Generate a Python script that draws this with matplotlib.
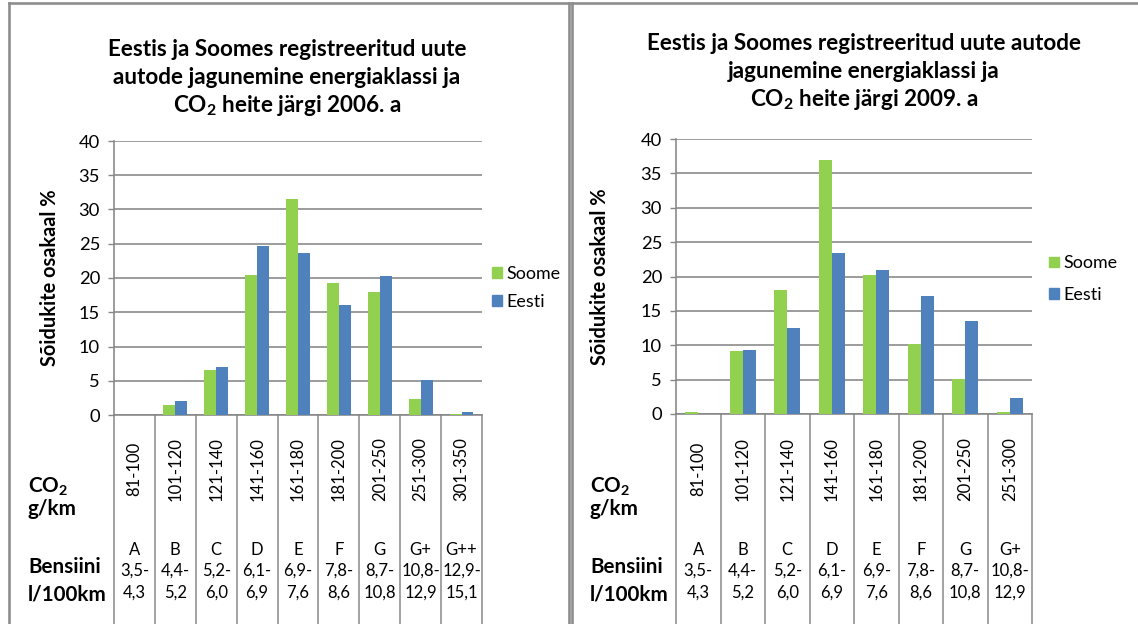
import numpy as np
import matplotlib
matplotlib.use('Agg')
import matplotlib.pyplot as plt
from matplotlib.lines import Line2D
from matplotlib.patches import Patch
from matplotlib.textpath import TextPath
from matplotlib.font_manager import FontProperties
from matplotlib import transforms

FONT = 'Lato'
plt.rcParams['font.family'] = [FONT, 'DejaVu Sans']
plt.rcParams['mathtext.fontset'] = 'custom'
plt.rcParams['mathtext.rm'] = FONT
plt.rcParams['mathtext.bf'] = FONT + ':bold'

# ---------------- data ----------------
co2_2006 = ['81-100', '101-120', '121-140', '141-160', '161-180',
            '181-200', '201-250', '251-300', '301-350']
cls_2006 = ['A', 'B', 'C', 'D', 'E', 'F', 'G', 'G+', 'G++']
fuel_lo_2006 = ['3,5-', '4,4-', '5,2-', '6,1-', '6,9-', '7,8-', '8,7-', '10,8-', '12,9-']
fuel_hi_2006 = ['4,3', '5,2', '6,0', '6,9', '7,6', '8,6', '10,8', '12,9', '15,1']
soome_2006 = [0.0, 1.4, 6.6, 20.5, 31.5, 19.3, 18.0, 2.3, 0.15]
eesti_2006 = [0.0, 2.05, 7.0, 24.7, 23.6, 16.1, 20.3, 5.1, 0.45]

co2_2009 = ['81-100', '101-120', '121-140', '141-160', '161-180',
            '181-200', '201-250', '251-300']
cls_2009 = ['A', 'B', 'C', 'D', 'E', 'F', 'G', 'G+']
fuel_lo_2009 = ['3,5-', '4,4-', '5,2-', '6,1-', '6,9-', '7,8-', '8,7-', '10,8-']
fuel_hi_2009 = ['4,3', '5,2', '6,0', '6,9', '7,6', '8,6', '10,8', '12,9']
soome_2009 = [0.3, 9.1, 18.1, 36.9, 20.2, 10.2, 5.1, 0.3]
eesti_2009 = [0.05, 9.3, 12.5, 23.4, 21.0, 17.1, 13.5, 2.3]

series_names = ['Soome', 'Eesti']
yticks = [0, 5, 10, 15, 20, 25, 30, 35, 40]
title_2006 = ['Eestis ja Soomes registreeritud uute',
              'autode jagunemine energiaklassi ja',
              r'CO$_\mathbf{2}$ heite järgi 2006. a']
title_2009 = ['Eestis ja Soomes registreeritud uute autode',
              'jagunemine energiaklassi ja',
              r'CO$_\mathbf{2}$ heite järgi 2009. a']
ylabel = 'Sõidukite osakaal %'

# ---------------- style ----------------
W, H, DPI = 1138, 624, 100
GREEN = '#92D050'
BLUE = '#4F81BD'
GRID = '#878787'
BORDER = '#8C8C8C'


def fx(x):
    return x / W


def fy(y):
    return 1 - y / H


def fit(text, target_px, weight='normal'):
    tp = TextPath((0, 0), text, size=100, prop=FontProperties(family=FONT, weight=weight))
    w = tp.get_extents().width
    return 100 * target_px * 72 / (w * DPI)


FS_TITLE = fit('Eestis ja Soomes registreeritud uute', 357, 'bold')
FS_TICK = fit('40', 20.5)
FS_ROT = fit('101-120', 62)
FS_TAB = FS_ROT
FS_BOLD = fit('Bensiini', 70, 'bold')
FS_LEG = fit('Soome', 53)
FS_YLAB = fit(ylabel, 175, 'bold')

fig = plt.figure(figsize=(W / DPI, H / DPI), dpi=DPI)


def px2pt(p):
    return p * 72 / DPI


def panel(x0, x1, ytop, ybot, cats, cls, lo, hi, s, e,
          title, tx, ty, ylab_x, lab_x, leg_x, leg_y, leg_space):
    ax = fig.add_axes([fx(x0), fy(ybot), (x1 - x0) / W, (ybot - ytop) / H])
    n = len(cats)
    x = np.arange(n)
    w = 0.29
    ax.bar(x - w / 2, s, w, color=GREEN, zorder=3, label=series_names[0])
    ax.bar(x + w / 2, e, w, color=BLUE, zorder=3, label=series_names[1])
    ax.set_xlim(-0.5, n - 0.5)
    ax.set_ylim(0, 40)
    ax.set_yticks(yticks)
    ax.set_xticks([])
    ax.yaxis.grid(True, color=GRID, linewidth=px2pt(1.6), zorder=1)
    ax.set_axisbelow(True)
    for sp in ['top', 'right']:
        ax.spines[sp].set_visible(False)
    for sp in ['left', 'bottom']:
        ax.spines[sp].set_color(GRID)
        ax.spines[sp].set_linewidth(px2pt(1.6))
    ax.tick_params(axis='y', direction='out', length=px2pt(6), width=px2pt(1.4),
                   color=GRID, labelsize=FS_TICK, pad=px2pt(8), labelcolor='black')

    blend = transforms.blended_transform_factory(ax.transData, fig.transFigure)
    # table column separators
    for b in np.arange(n + 1) - 0.5:
        ax.add_line(Line2D([b, b], [fy(ybot), fy(H + 5)], transform=blend,
                           color=GRID, linewidth=px2pt(1.5), clip_on=False))
    capk = 0.7165 * DPI / 72
    for i in range(n):
        ax.text(i, fy(469), cats[i], transform=blend, rotation=90,
                ha='center', va='center', fontsize=FS_ROT, rotation_mode='anchor')
        for yy, txt in zip([549, 570, 592], [cls[i], lo[i], hi[i]]):
            ax.text(i, fy(yy + FS_TAB * capk / 2), txt, transform=blend,
                    ha='center', va='baseline', fontsize=FS_TAB)

    # left column labels
    for yy, txt in zip([485, 508, 566, 593],
                       [r'CO$_\mathbf{2}$', 'g/km', 'Bensiini', 'l/100km']):
        fig.text(fx(lab_x), fy(yy + FS_BOLD * capk / 2), txt, fontsize=FS_BOLD,
                 fontweight='bold', ha='left', va='baseline')

    # title
    for k, line in enumerate(title):
        fig.text(fx(tx), fy(ty[k] + FS_TITLE * capk / 2), line, fontsize=FS_TITLE,
                 fontweight='bold', ha='center', va='baseline')

    # y label
    fig.text(fx(ylab_x), fy((ytop + ybot) / 2), ylabel, rotation=90, fontsize=FS_YLAB,
             fontweight='bold', ha='center', va='center')

    # legend
    handles = [Patch(color=GREEN), Patch(color=BLUE)]
    ax.legend(handles, series_names, loc='center left',
              bbox_to_anchor=(fx(leg_x), fy(leg_y)), bbox_transform=fig.transFigure,
              frameon=False, borderpad=0, borderaxespad=0, fontsize=FS_LEG,
              handlelength=0.55, handleheight=0.55, handletextpad=0.25,
              labelspacing=leg_space)
    return ax


panel(114, 482, 141, 415, co2_2006, cls_2006, fuel_lo_2006, fuel_hi_2006,
      soome_2006, eesti_2006, title_2006, 287, [48, 76, 104], 50, 28, 492, 288, 0.65)
panel(676, 1032, 139, 414, co2_2009, cls_2009, fuel_lo_2009, fuel_hi_2009,
      soome_2009, eesti_2009, title_2009, 864, [42, 70, 98], 600, 590, 1049, 279, 0.85)

# panel borders
lw = px2pt(2.6)
for xs, ys in [([8.5, 8.5], [H + 5, 3]), ([8.5, 568.5], [3, 3]), ([568.5, 568.5], [3, H + 5]),
               ([572, 572], [H + 5, 3]), ([572, W + 5], [3, 3])]:
    fig.add_artist(Line2D([fx(v) for v in xs], [fy(v) for v in ys],
                          transform=fig.transFigure, color=BORDER, linewidth=lw))

fig.savefig('out.png', dpi=DPI)
